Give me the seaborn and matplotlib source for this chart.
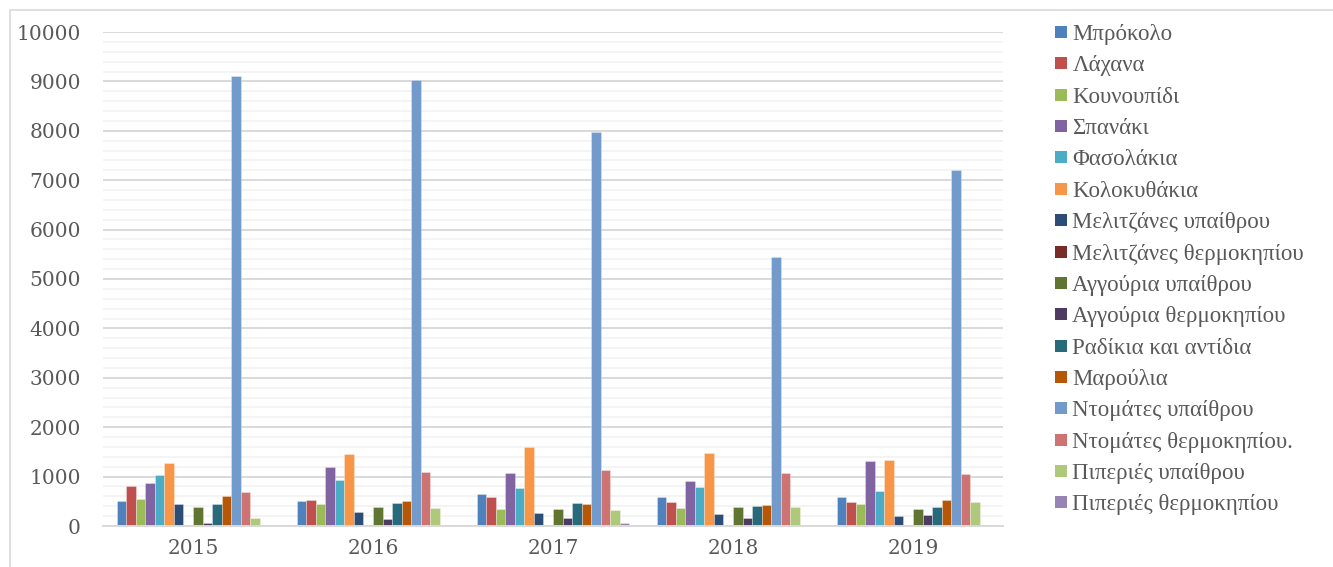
import matplotlib
matplotlib.use("Agg")
import matplotlib.pyplot as plt
from matplotlib.lines import Line2D
from matplotlib.patches import Rectangle
from matplotlib.ticker import MultipleLocator
import seaborn as sns
import pandas as pd

years = ["2015", "2016", "2017", "2018", "2019"]

crops = [
    "Μπρόκολο", "Λάχανα", "Κουνουπίδι", "Σπανάκι", "Φασολάκια", "Κολοκυθάκια",
    "Μελιτζάνες υπαίθρου", "Μελιτζάνες θερμοκηπίου", "Αγγούρια υπαίθρου",
    "Αγγούρια θερμοκηπίου", "Ραδίκια και αντίδια", "Μαρούλια",
    "Ντομάτες υπαίθρου", "Ντομάτες θερμοκηπίου.", "Πιπεριές υπαίθρου",
    "Πιπεριές θερμοκηπίου",
]

# production per crop, one value per year 2015-2019
broccoli = [500, 510, 640, 590, 580]
cabbage = [800, 520, 590, 480, 490]
cauliflower = [540, 440, 340, 370, 450]
spinach = [870, 1190, 1080, 920, 1320]
green_beans = [1030, 940, 770, 790, 700]
zucchini = [1280, 1450, 1600, 1470, 1330]
eggplant_open = [450, 280, 260, 240, 200]
eggplant_greenhouse = [5, 20, 20, 5, 25]
cucumber_open = [390, 390, 340, 390, 350]
cucumber_greenhouse = [60, 150, 160, 170, 220]
chicory = [440, 460, 460, 400, 390]
lettuce = [610, 500, 450, 420, 530]
tomato_open = [9100, 9020, 7980, 5450, 7210]
tomato_greenhouse = [680, 1100, 1130, 1080, 1060]
pepper_open = [170, 360, 320, 390, 490]
pepper_greenhouse = [10, 20, 70, 10, 20]

series = [
    broccoli, cabbage, cauliflower, spinach, green_beans, zucchini,
    eggplant_open, eggplant_greenhouse, cucumber_open, cucumber_greenhouse,
    chicory, lettuce, tomato_open, tomato_greenhouse, pepper_open,
    pepper_greenhouse,
]

colors = [
    "#4F81BD", "#C0504D", "#9BBB59", "#8064A2", "#4BACC6", "#F79646",
    "#2C4D75", "#772C2A", "#5F7530", "#4D3B62", "#276A7C", "#B65708",
    "#729ACA", "#CD7371", "#AFC97A", "#9983B5",
]

rows = []
for crop, vals in zip(crops, series):
    for yr, v in zip(years, vals):
        rows.append({"year": yr, "crop": crop, "value": v})
df = pd.DataFrame(rows)

sns.set_theme(style="white")
plt.rcParams["font.family"] = ["Liberation Serif", "DejaVu Serif"]

text_color = "#595959"
fig = plt.figure(figsize=(13.33, 5.67), dpi=100)
ax = fig.add_axes([103 / 1333, 1 - 526 / 567, 900 / 1333, (526 - 32) / 567])

sns.barplot(
    data=df, x="year", y="value", hue="crop", order=years, hue_order=crops,
    palette=colors, width=0.85, ax=ax, legend=False, errorbar=None,
    saturation=1, linewidth=0.6, edgecolor=(1, 1, 1, 0.35),
)

ax.set_ylim(0, 10000)
ax.set_xlim(-0.5, 4.5)
ax.yaxis.set_major_locator(MultipleLocator(1000))
ax.yaxis.set_minor_locator(MultipleLocator(200))
ax.grid(which="major", axis="y", color="#D9D9D9", linewidth=1.4)
ax.grid(which="minor", axis="y", color="#F2F2F2", linewidth=1.2)
ax.set_axisbelow(True)
for side in ["top", "right", "left"]:
    ax.spines[side].set_visible(False)
ax.spines["bottom"].set_color("#D9D9D9")
ax.spines["bottom"].set_linewidth(1.4)
ax.set_xlabel("")
ax.set_ylabel("")
ax.tick_params(axis="y", which="both", length=0, pad=16, labelcolor=text_color,
               labelsize=14.5)
ax.tick_params(axis="x", length=0, pad=9, labelcolor=text_color, labelsize=14.5)
for lbl in ax.get_yticklabels() + ax.get_xticklabels():
    lbl.set_fontfamily(["DejaVu Serif"])

handles = [
    Line2D([], [], marker="s", linestyle="none", markersize=8,
           markerfacecolor=c, markeredgewidth=0)
    for c in colors
]
leg = fig.legend(
    handles, crops, loc="upper left",
    bbox_to_anchor=(1054 / 1333, 1 - 24 / 567),
    frameon=False, fontsize=16.5, labelcolor=text_color,
    handlelength=0.6, handletextpad=0.2, labelspacing=0.45,
    borderaxespad=0, borderpad=0,
)

# light frame around the chart area
fig.patches.append(Rectangle((10 / 1333, -0.05), 1.1, 1 - 10 / 567 + 0.05,
                             transform=fig.transFigure, fill=False,
                             edgecolor="#D9D9D9", linewidth=1.2))

fig.savefig("out.png", dpi=100)
